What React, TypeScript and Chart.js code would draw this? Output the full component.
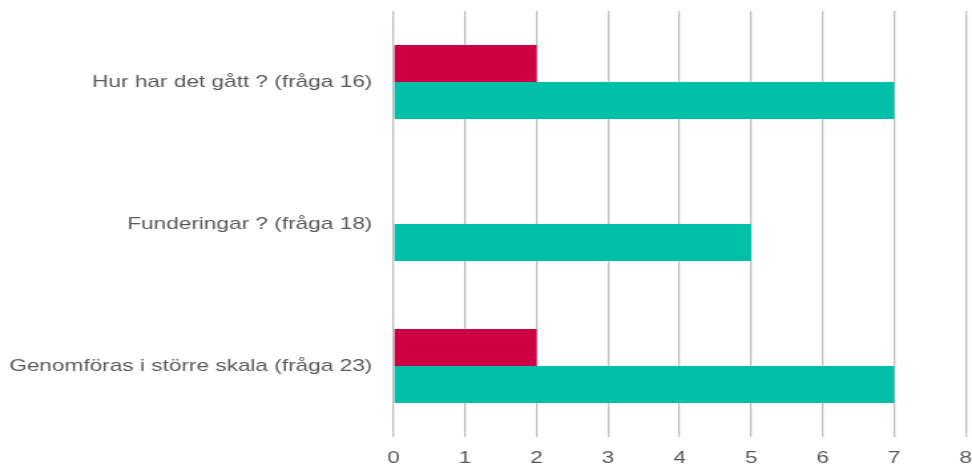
import React, { useEffect, useRef } from "react";
import { Chart, registerables } from "chart.js";

Chart.register(...registerables);

const categories = [
  "Hur har det gått ? (fråga 16)",
  "Funderingar ? (fråga 18)",
  "Genomföras i större skala (fråga 23)",
];
const redValues = [2, 0, 2];
const tealValues = [7, 5, 7];
const xTicks = [0, 1, 2, 3, 4, 5, 6, 7, 8];

const INNER_W = 731;
const OUT_W = 972;
const H = 466;

export default function App() {
  const ref = useRef<HTMLCanvasElement | null>(null);
  useEffect(() => {
    document.body.style.margin = "0";
    const ctx = ref.current!;
    const chart = new Chart(ctx, {
      type: "bar",
      data: {
        labels: categories,
        datasets: [
          {
            label: "A",
            data: redValues,
            backgroundColor: "#CC0042",
            barPercentage: 1,
            categoryPercentage: 0.52,
          },
          {
            label: "B",
            data: tealValues,
            backgroundColor: "#00BFA9",
            barPercentage: 1,
            categoryPercentage: 0.52,
          },
        ],
      },
      options: {
        indexAxis: "y",
        animation: false,
        responsive: false,
        maintainAspectRatio: false,
        devicePixelRatio: 1,
        layout: { padding: { top: 11, right: 3, left: 0, bottom: 0 } },
        plugins: { legend: { display: false }, tooltip: { enabled: false } },
        scales: {
          x: {
            min: 0,
            max: 8,
            afterBuildTicks: (s: any) => {
              s.ticks = xTicks.map((v) => ({ value: v }));
            },
            afterFit: (s: any) => {
              s.height = 29;
            },
            grid: { color: "#BDBDBD", drawTicks: false, lineWidth: 1.3 },
            border: { display: false },
            ticks: {
              padding: 0,
              color: "#595959",
              font: { family: "'Liberation Sans', Arial, sans-serif", size: 17, lineHeight: 2.55 },
            },
          },
          y: {
            afterFit: (s: any) => {
              s.width = 296;
            },
            grid: { display: false, drawTicks: true, tickLength: 16 },
            border: { display: false },
            ticks: {
              padding: 0,
              color: "#595959",
              font: { family: "'Liberation Sans', Arial, sans-serif", size: 17, lineHeight: 0.1 },
            },
          },
        },
      },
    });
    return () => chart.destroy();
  }, []);
  return (
    <canvas
      ref={ref}
      width={INNER_W}
      height={H}
      style={{ display: "block", width: OUT_W + "px", height: H + "px" }}
    />
  );
}
